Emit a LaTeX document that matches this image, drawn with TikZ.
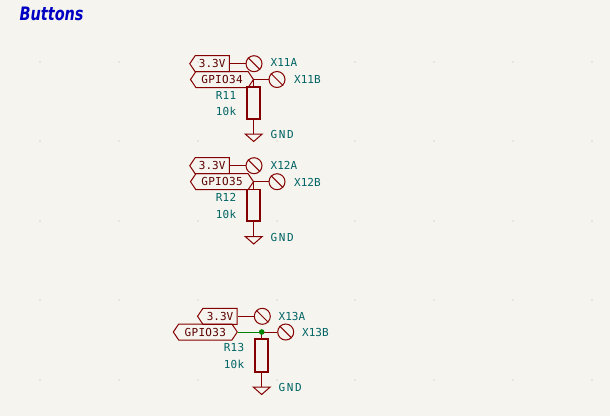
\documentclass[tikz,border=0pt]{standalone}
\usepackage{fontspec}
\usetikzlibrary{shapes.symbols}
\definecolor{bgc}{HTML}{F5F4EF}
\definecolor{sym}{HTML}{840000}
\definecolor{lab}{HTML}{006464}
\definecolor{gwire}{HTML}{008400}
\definecolor{ttl}{HTML}{0000C2}
\definecolor{griddot}{HTML}{E6E5E0}
\newfontfamily\kifont[LetterSpace=3]{DejaVu Sans Mono}
\newfontfamily\kitight{DejaVu Sans Mono}
\newfontfamily\kiwide[LetterSpace=14]{DejaVu Sans Mono}
\newfontfamily\ttlfont[FakeStretch=0.78]{DejaVu Sans}
\tikzset{
  x=1pt,y=-1pt,
  txt/.style={font=\kifont\fontsize{11}{11}\selectfont,inner sep=0pt},
  lbl/.style={txt,text=lab},
  lblw/.style={lbl,anchor=west},
  lble/.style={lbl,anchor=east},
  pinlbl/.style={lblw,font=\kitight\fontsize{11}{11}\selectfont},
  gndlbl/.style={lblw,font=\kiwide\fontsize{11}{11}\selectfont},
  flagone/.style={txt,draw=sym,line width=1pt,text=sym!70!black,signal,signal to=west,signal pointer angle=112,minimum height=16pt,inner xsep=0pt,inner ysep=0pt},
  flagtwo/.style={flagone,signal to=west and east},
  sw/.style={circle,draw=sym,line width=1pt,minimum size=16pt,inner sep=0pt},
  res/.style={draw=sym,line width=1.7pt,minimum width=13pt,inner sep=0pt},
  wire/.style={draw=sym,line width=1pt},
  gnet/.style={draw=gwire,line width=1pt},
}
\newcommand{\slashsw}[1]{\draw[wire] (#1.135) -- (#1.-45);}
\newcommand{\gndsym}[1]{\draw[wire] (#1) ++(-8.5,0) -- ++(17,0) -- ++(-8.5,7.5) -- cycle;}
\begin{document}
\begin{tikzpicture}
\fill[bgc] (0,0) rectangle (610,416);
\useasboundingbox (0,0) rectangle (610,416);
\foreach \gx in {40,119,198,277,355,434,513,592}
  \foreach \gy in {62,141,221,300,380}
    \fill[griddot] (\gx-0.6,\gy-0.6) rectangle (\gx+0.6,\gy+0.6);
\node[anchor=west,inner sep=0pt,text=ttl,font=\ttlfont\bfseries\itshape\fontsize{18.5}{18.5}\selectfont] (title) at (19.5,14) {Buttons};

% group 1
\node[flagone,minimum width=39.5pt] (v1) at (212.2,63.7) {\kitight 3.3V};
\node[flagtwo,minimum width=63pt] (g1) at (222,79.5) {GPIO34};
\node[sw] (a1) at (254,63.7) {};
\node[sw] (b1) at (277,79.5) {};
\node[res,minimum height=32.5pt] (r1) at (253.7,103) {};
\coordinate (e1) at (253.7,134);
\slashsw{a1}\slashsw{b1}
\draw[wire] (v1.east) -- (a1);
\draw[wire] (g1.east) -- (b1);
\draw[wire] (r1.north) -- (r1.north |- g1.east);
\draw[wire] (r1.south) -- (e1);
\gndsym{e1}
\node[pinlbl] (xa1) at (270.5,62.5) {X11A};
\node[pinlbl] (xb1) at (294,79) {X11B};
\node[lble] (rn1) at (236.5,95) {R11};
\node[lble] (rv1) at (236.5,111.5) {10k};
\node[gndlbl] (gn1) at (270.5,134.5) {GND};

% group 2
\node[flagone,minimum width=39.5pt] (v2) at (212.2,165.7) {\kitight 3.3V};
\node[flagtwo,minimum width=63pt] (g2) at (222,181.7) {GPIO35};
\node[sw] (a2) at (254,165.7) {};
\node[sw] (b2) at (277,181.7) {};
\node[res,minimum height=31.5pt] (r2) at (253.7,205.3) {};
\coordinate (e2) at (253.7,236.5);
\slashsw{a2}\slashsw{b2}
\draw[wire] (v2.east) -- (a2);
\draw[wire] (g2.east) -- (b2);
\draw[wire] (r2.north) -- (r2.north |- g2.east);
\draw[wire] (r2.south) -- (e2);
\gndsym{e2}
\node[pinlbl] (xa2) at (270.5,165.5) {X12A};
\node[pinlbl] (xb2) at (294,182) {X12B};
\node[lble] (rn2) at (236.5,197.5) {R12};
\node[lble] (rv2) at (236.5,214) {10k};
\node[gndlbl] (gn2) at (270.5,237) {GND};

% group 3
\node[flagone,minimum width=39.5pt] (v3) at (220,316.3) {\kitight 3.3V};
\node[flagtwo,minimum width=64pt] (g3) at (205.3,332) {GPIO33};
\node[sw] (a3) at (262.3,316.3) {};
\node[sw] (b3) at (285.7,332) {};
\node[res,minimum height=32.5pt] (r3) at (261.7,355.5) {};
\coordinate (e3) at (261.7,387);
\coordinate (j3) at (261.7,332);
\slashsw{a3}\slashsw{b3}
\draw[wire] (v3.east) -- (a3);
\draw[gnet] (g3.east) -- (j3);
\draw[wire] (j3) -- (b3);
\draw[wire] (r3.south) -- (e3);
\draw[wire] (r3.north) -- (j3);
\gndsym{e3}
\fill[gwire] (j3) circle (2.8);
\node[pinlbl] (xa3) at (278.5,316) {X13A};
\node[pinlbl] (xb3) at (302,332) {X13B};
\node[lble] (rn3) at (244.5,347.5) {R13};
\node[lble] (rv3) at (244.5,364) {10k};
\node[gndlbl] (gn3) at (278.5,387) {GND};
\end{tikzpicture}
\end{document}
